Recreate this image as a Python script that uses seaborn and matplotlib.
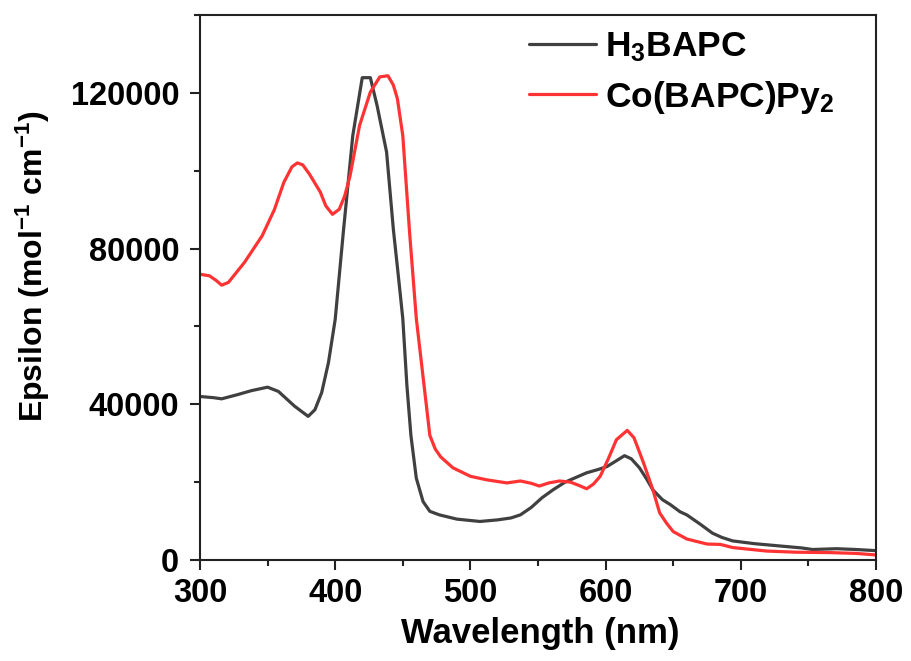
import matplotlib
matplotlib.use("Agg")
import matplotlib.pyplot as plt
import seaborn as sns
import pandas as pd
from matplotlib.ticker import MultipleLocator

wl_h3 = [300, 310, 316, 328, 338, 350, 358, 370, 380, 385, 390, 395, 400, 406,
         413, 420, 426, 431, 438, 443, 447, 450, 453, 456, 460, 465, 470, 477,
         490, 507, 520, 530, 537, 545, 553, 561, 570, 580, 586, 595, 601, 608,
         614, 619, 625, 630, 635, 642, 648, 655, 660, 670, 679, 686, 694, 710,
         729, 745, 753, 771, 785, 800]
eps_h3 = [42000, 41700, 41400, 42500, 43500, 44400, 43300, 39500, 36900, 38600,
          43000, 50700, 61800, 84200, 109000, 123900, 123900, 116700, 104800,
          85000, 72000, 62000, 45000, 32000, 21000, 15000, 12500, 11600, 10500,
          9900, 10300, 10800, 11600, 13500, 16000, 18000, 20000, 21500, 22400,
          23300, 24000, 25500, 26800, 26000, 23700, 21000, 18000, 15500, 14200,
          12400, 11600, 9200, 6900, 5800, 4900, 4200, 3600, 3100, 2700, 2900,
          2700, 2400]

wl_co = [300, 307, 312, 316, 321, 333, 346, 355, 362, 368, 372, 376, 381, 389,
         393, 398, 403, 407, 411, 418, 426, 433, 439, 443, 446, 450, 455, 460,
         466, 470, 474, 478, 487, 500, 512, 527, 537, 545, 551, 558, 566, 574,
         580, 586, 591, 596, 602, 608, 616, 621, 628, 635, 640, 645, 650, 660,
         675, 685, 694, 719, 741, 766, 785, 800]
eps_co = [73400, 73000, 71800, 70600, 71300, 76500, 83300, 90000, 97000, 101000,
          102000, 101500, 99100, 94500, 91000, 88800, 90100, 93500, 98700,
          111600, 120200, 124100, 124400, 122000, 118500, 109000, 84200, 62000,
          44000, 32000, 28500, 26500, 23700, 21500, 20600, 19800, 20300, 19700,
          19000, 19800, 20300, 20000, 19200, 18300, 19500, 21500, 26000, 30900,
          33300, 31400, 25000, 18000, 12100, 9500, 7300, 5400, 4100, 4000, 3200,
          2300, 2000, 1900, 1700, 1300]

labels = [r"H$_3$BAPC", r"Co(BAPC)Py$_2$"]
colores = ["#404040", "#ff3333"]

sns.set_style("ticks")
plt.rcParams["font.family"] = ["Liberation Sans", "DejaVu Sans"]
plt.rcParams["font.weight"] = "bold"
plt.rcParams["text.color"] = "black"
plt.rcParams["axes.labelcolor"] = "black"
plt.rcParams["mathtext.fontset"] = "custom"
plt.rcParams["mathtext.rm"] = "Liberation Sans:bold"
plt.rcParams["mathtext.bf"] = "Liberation Sans:bold"
plt.rcParams["mathtext.default"] = "rm"

df = pd.concat([
    pd.DataFrame({"wl": wl_h3, "eps": eps_h3, "muestra": labels[0]}),
    pd.DataFrame({"wl": wl_co, "eps": eps_co, "muestra": labels[1]}),
])

fig = plt.figure(figsize=(9.11, 6.61), dpi=100)
ax = fig.add_axes([200 / 911, 1 - 560 / 661, 676 / 911, 545 / 661])
sns.lineplot(data=df, x="wl", y="eps", hue="muestra", palette=colores,
             linewidth=2.3, sort=False, ax=ax)

ax.set_xlim(300, 800)
ax.set_ylim(0, 140000)
ax.xaxis.set_major_locator(MultipleLocator(100))
ax.xaxis.set_minor_locator(MultipleLocator(50))
ax.yaxis.set_major_locator(MultipleLocator(40000))
ax.yaxis.set_minor_locator(MultipleLocator(20000))
ax.tick_params(which="major", direction="out", length=7, width=1.5,
               labelsize=23.5, top=False, right=False, color="#222222",
               labelcolor="black")
ax.tick_params(axis="y", which="major", pad=8)
ax.tick_params(axis="x", which="major", pad=6)
ax.tick_params(which="minor", direction="out", length=4, width=1.5,
               top=False, right=False, color="#222222")
for s in ax.spines.values():
    s.set_linewidth(1.5)
    s.set_color("#222222")
for lab in ax.get_xticklabels() + ax.get_yticklabels():
    lab.set_fontweight("bold")

ax.set_xlabel("Wavelength (nm)", fontsize=25, fontweight="bold", color="black")
ax.set_ylabel(r"Epsilon (mol$^{-1}$ cm$^{-1}$)", fontsize=23,
              fontweight="bold", color="black")
ax.xaxis.set_label_coords(0.503, -0.104)
ax.yaxis.set_label_coords(-0.219, 0.539)

leg = ax.legend(loc="upper right", frameon=False,
                handlelength=1.9, handletextpad=0.25, labelspacing=0.42,
                borderpad=0, borderaxespad=0,
                bbox_to_anchor=(834 / 911, 1 - 30 / 661),
                bbox_transform=fig.transFigure,
                prop={"weight": "bold", "size": 25.5})
for line in leg.get_lines():
    line.set_linewidth(2.3)
for t in leg.get_texts():
    t.set_color("black")

fig.savefig("out.png", dpi=100)
plt.close(fig)
